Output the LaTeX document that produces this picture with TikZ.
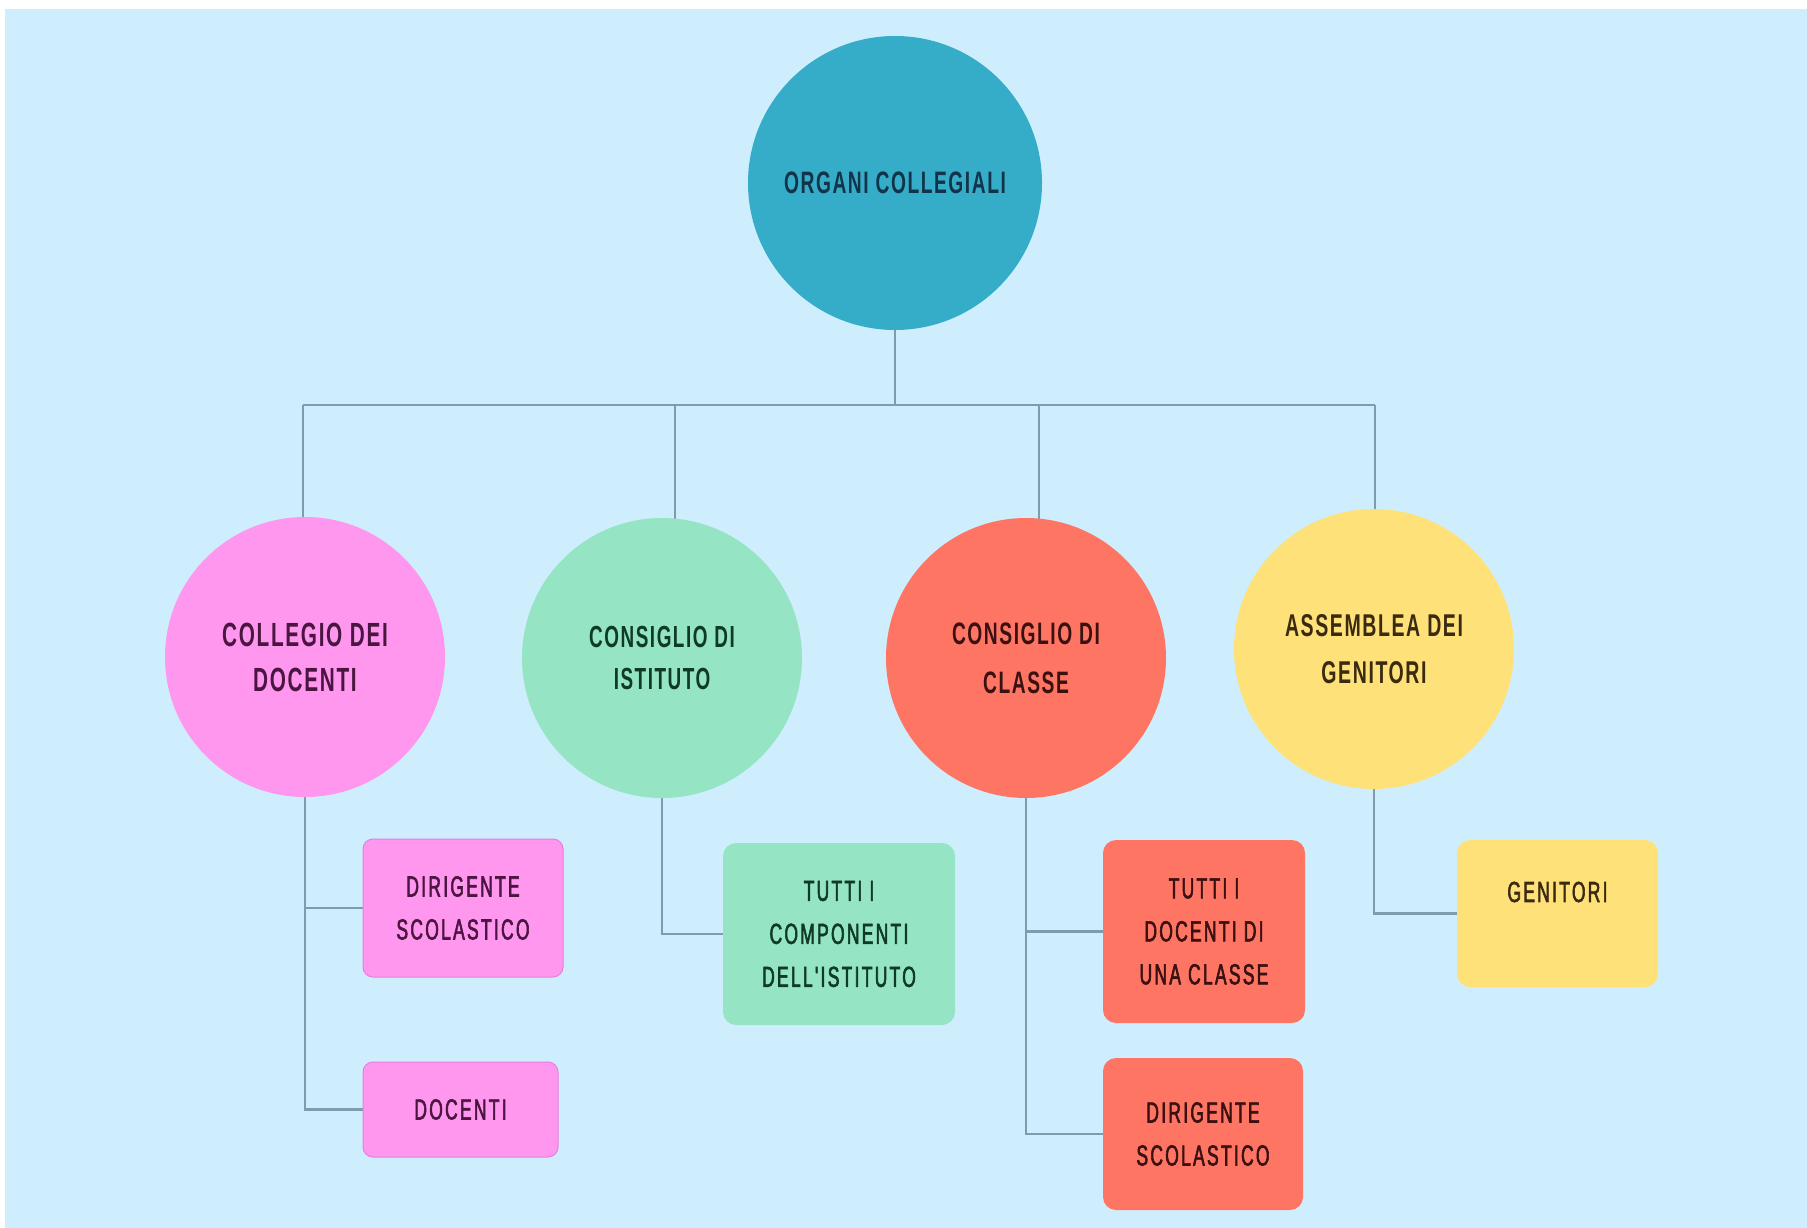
\documentclass[tikz,border=0pt]{standalone}
\usepackage{fontspec}
\newfontfamily\circfont[FakeStretch=0.62,LetterSpace=5]{Liberation Sans}
\newfontfamily\boxfont[FakeStretch=0.6,LetterSpace=8,FakeBold=2]{Liberation Sans}
\definecolor{bgc}{HTML}{CFEEFD}
\definecolor{linec}{HTML}{7F9CAD}
\definecolor{rootc}{HTML}{35ADC8}
\definecolor{roottxt}{HTML}{12344A}
\definecolor{pinkc}{HTML}{FF97EE}
\definecolor{pinkb}{HTML}{E57FDD}
\definecolor{pinktxt}{HTML}{4A1540}
\definecolor{greenc}{HTML}{95E5C4}
\definecolor{greentxt}{HTML}{0F3A26}
\definecolor{redc}{HTML}{FF7563}
\definecolor{redtxt}{HTML}{3A1010}
\definecolor{yellc}{HTML}{FFE17A}
\definecolor{yelltxt}{HTML}{3A2A10}
\pgfdeclarelayer{bg}
\pgfdeclarelayer{lines}
\pgfsetlayers{bg,lines,main}
\begin{document}
\begin{tikzpicture}[x=1pt,y=-1pt,
  conn/.style={draw=linec,line width=2.5pt},
  circ/.style={circle,minimum size=280pt,inner sep=0pt,align=center,
    font=\circfont\bfseries\fontsize{31}{45}\selectfont},
  bx/.style={rectangle,rounded corners=10pt,inner sep=0pt,align=center,
    font=\boxfont\fontsize{29}{43}\selectfont}]
\useasboundingbox (0,0) rectangle (1807,1228);
\begin{pgfonlayer}{bg}
  \fill[white] (0,0) rectangle (1807,1228);
  \fill[bgc] (5,9) rectangle (1807,1228);
\end{pgfonlayer}

% root
\node[circ,fill=rootc,text=roottxt,minimum size=294pt] (root) at (895,183) {ORGANI COLLEGIALI};

% level 1
\node[circ,fill=pinkc,text=pinktxt,font=\circfont\bfseries\fontsize{33.5}{45}\selectfont] (c1) at (305,657) {COLLEGIO DEI\\DOCENTI};
\node[circ,fill=greenc,text=greentxt,font=\circfont\bfseries\fontsize{30.5}{42}\selectfont] (c2) at (662,658) {CONSIGLIO DI\\ISTITUTO};
\node[circ,fill=redc,text=redtxt,font=\circfont\bfseries\fontsize{31}{49}\selectfont] (c3) at (1026,658) {CONSIGLIO DI\\CLASSE};
\node[circ,fill=yellc,text=yelltxt,font=\circfont\bfseries\fontsize{31.5}{47}\selectfont] (c4) at (1374,649) {ASSEMBLEA DEI\\GENITORI};

% boxes
\node[bx,fill=pinkc,draw=pinkb,line width=1pt,text=pinktxt,minimum width=200pt,minimum height=138pt] (b1) at (463,908) {DIRIGENTE\\SCOLASTICO};
\node[bx,fill=pinkc,draw=pinkb,line width=1pt,text=pinktxt,minimum width=195pt,minimum height=95pt] (b2) at (460.5,1109.5) {DOCENTI};
\node[bx,rounded corners=13pt,fill=greenc,text=greentxt,minimum width=232pt,minimum height=182pt] (b3) at (839,934) {TUTTI I\\COMPONENTI\\DELL'ISTITUTO};
\node[bx,rounded corners=13pt,fill=redc,text=redtxt,minimum width=202pt,minimum height=183pt] (b4) at (1204,931.5) {TUTTI I\\DOCENTI DI\\UNA CLASSE};
\node[bx,rounded corners=13pt,fill=redc,text=redtxt,minimum width=200pt,minimum height=152pt] (b5) at (1203,1134) {DIRIGENTE\\SCOLASTICO};
\node[bx,rounded corners=13pt,fill=yellc,text=yelltxt,minimum width=201pt,minimum height=147pt] (b6) at (1557.5,913.5) {GENITORI\\\phantom{G}};

% connectors
\coordinate (busL) at (303,405);
\coordinate (busR) at (1375,405);
\coordinate (busG) at (675,405);
\coordinate (busC) at (1039,405);
\begin{pgfonlayer}{lines}
  \draw[conn] (root.center) -- (root.center |- busL);
  \draw[conn] (busL) -- (busR);
  \draw[conn] (busL) -- (busL |- c1.center);
  \draw[conn] (busG) -- (busG |- c2.center);
  \draw[conn] (busC) -- (busC |- c3.center);
  \draw[conn] (busR) -- (busR |- c4.center);
  % pink children
  \draw[conn] (c1.center) |- (b2.west);
  \draw[conn] (c1.center |- b1.west) -- (b1.west);
  % green child
  \draw[conn] (c2.center) |- (b3.west);
  % red children
  \draw[conn] (c3.center) |- (b5.west);
  \draw[conn] (c3.center |- b4.west) -- (b4.west);
  % yellow child
  \draw[conn] (c4.center) |- (b6.west);
\end{pgfonlayer}
\end{tikzpicture}
\end{document}
